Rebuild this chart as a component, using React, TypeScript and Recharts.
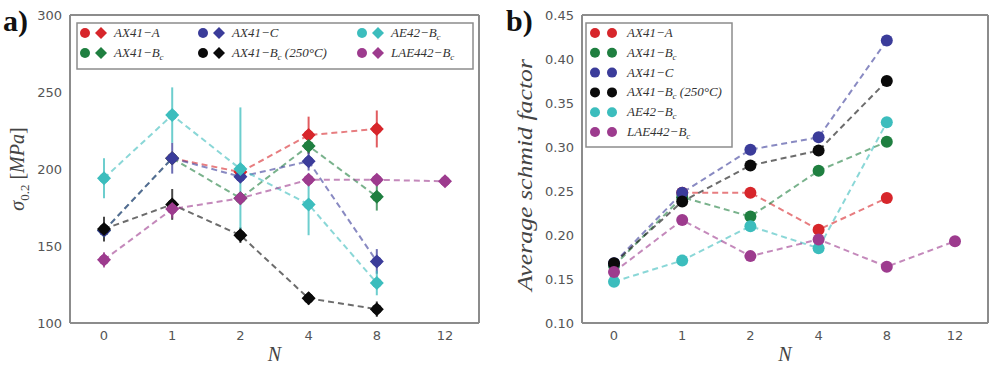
import React from "react"
import { LineChart, Line, XAxis, YAxis, ErrorBar, Legend } from "recharts"

// number of passes N (categorical axis)
const categories = ["0", "1", "2", "4", "8", "12"]

// panel a) yield stress sigma_0.2 [MPa]
const sigmaA = [null, 207, 198, 222, 226, null]
const sigmaAErr = [null, null, null, 12, 12, null]
const sigmaBc = [160, 207, 181, 215, 182, null]
const sigmaBcErr = [null, null, null, 5, 9, null]
const sigmaC = [160, 207, 195, 205, 140, null]
const sigmaCErr = [null, 10, null, 6, 8, null]
const sigmaBc250 = [161, 177, 157, 116, 109, null]
const sigmaBc250Err = [8, 10, 5, 4, 5, null]
const sigmaAE42 = [194, 235, 200, 177, 126, null]
const sigmaAE42Err = [13, 18, 40, 20, 8, null]
const sigmaLAE442 = [141, 174, 181, 193, 193, 192]
const sigmaLAE442Err = [5, 6, null, null, null, null]

// panel b) average schmid factor
const schmidA = [null, 0.248, 0.248, 0.206, 0.242, null]
const schmidBc = [0.165, 0.243, 0.221, 0.273, 0.306, null]
const schmidC = [0.168, 0.248, 0.297, 0.311, 0.421, null]
const schmidBc250 = [0.168, 0.238, 0.279, 0.296, 0.375, null]
const schmidAE42 = [0.147, 0.171, 0.21, 0.185, 0.328, null]
const schmidLAE442 = [0.158, 0.217, 0.176, 0.195, 0.164, 0.193]

const sigmaTicks = [100, 150, 200, 250, 300]
const schmidTicks = [0.1, 0.15, 0.2, 0.25, 0.3, 0.35, 0.4, 0.45]

interface Series {
  key: string
  main: string
  sub?: string
  tail?: string
  color: string
}

const series: Series[] = [
  { key: "a", main: "AX41\u2212A", color: "#d7262b" },
  { key: "bc", main: "AX41\u2212B", sub: "c", color: "#1f7f40" },
  { key: "c", main: "AX41\u2212C", color: "#3b3c9a" },
  { key: "bc250", main: "AX41\u2212B", sub: "c", tail: " (250\u00b0C)", color: "#0a0a0a" },
  { key: "ae42", main: "AE42\u2212B", sub: "c", color: "#3cbdbd" },
  { key: "lae442", main: "LAE442\u2212B", sub: "c", color: "#9d3b8e" },
]

const sigmaData = categories.map((n, i) => ({
  n,
  a: sigmaA[i], aErr: sigmaAErr[i],
  bc: sigmaBc[i], bcErr: sigmaBcErr[i],
  c: sigmaC[i], cErr: sigmaCErr[i],
  bc250: sigmaBc250[i], bc250Err: sigmaBc250Err[i],
  ae42: sigmaAE42[i], ae42Err: sigmaAE42Err[i],
  lae442: sigmaLAE442[i], lae442Err: sigmaLAE442Err[i],
}))

const schmidData = categories.map((n, i) => ({
  n,
  a: schmidA[i],
  bc: schmidBc[i],
  c: schmidC[i],
  bc250: schmidBc250[i],
  ae42: schmidAE42[i],
  lae442: schmidLAE442[i],
}))

const frame = "#8c8c8c"
const tickStyle = { fontFamily: "DejaVu Sans", fontSize: 13, fill: "#555" }
const serif = "Liberation Serif"

const SeriesName = ({ s, x, y }: { s: Series; x: number; y: number }) => (
  <text x={x} y={y} fontFamily={serif} fontStyle="italic" fontSize={13} fill="#333">
    <tspan>{s.main}</tspan>
    {s.sub && <tspan dy={3} fontSize={9}>{s.sub}</tspan>}
    {s.tail && <tspan dy={s.sub ? -3 : 0}>{s.tail}</tspan>}
  </text>
)

const diamond = (cx: number, cy: number, r: number) =>
  `M${cx} ${cy - r} L${cx + r} ${cy} L${cx} ${cy + r} L${cx - r} ${cy} Z`

const makeDiamondDot = (color: string) => (props: any) => {
  const { cx, cy, index } = props
  if (cx == null || cy == null || props.value == null) return <g key={index} />
  return (
    <g key={index}>
      <circle cx={cx} cy={cy} r={5} fill={color} />
      <path d={diamond(cx, cy, 7)} fill={color} />
    </g>
  )
}

const makeCircleDot = (color: string) => (props: any) => {
  const { cx, cy, index } = props
  if (cx == null || cy == null || props.value == null) return <g key={index} />
  return <circle key={index} cx={cx} cy={cy} r={6} fill={color} />
}

const LegendA = () => (
  <svg width={398} height={48} style={{ display: "block" }}>
    <rect x={1} y={1} width={396} height={46} fill="#fff" stroke={frame} strokeWidth={1.5} />
    {series.map((s, i) => {
      const col = Math.floor(i / 2)
      const row = i % 2
      const x0 = [4, 122, 281][col]
      const y0 = 11 + row * 20
      return (
        <g key={s.key}>
          <circle cx={x0 + 5} cy={y0} r={5} fill={s.color} />
          <path d={diamond(x0 + 21, y0, 6)} fill={s.color} />
          <SeriesName s={s} x={x0 + 34} y={y0 + 4} />
        </g>
      )
    })}
  </svg>
)

const LegendB = () => (
  <svg width={148} height={126} style={{ display: "block" }}>
    <rect x={1} y={1} width={146} height={124} fill="#fff" stroke={frame} strokeWidth={1.5} />
    {series.map((s, i) => {
      const y0 = 11 + i * 19.8
      return (
        <g key={s.key}>
          <circle cx={10} cy={y0} r={5} fill={s.color} />
          <circle cx={27} cy={y0} r={5} fill={s.color} />
          <SeriesName s={s} x={42} y={y0 + 4} />
        </g>
      )
    })}
  </svg>
)

const SigmaLabel = (props: any) => {
  const { viewBox } = props
  const x = viewBox.x - 6
  const y = viewBox.y + viewBox.height / 2
  return (
    <text x={x} y={y} transform={`rotate(-90 ${x} ${y})`} textAnchor="middle" fontFamily={serif} fontSize={20} fill="#444">
      <tspan fontStyle="italic">{"\u03c3"}</tspan>
      <tspan dy={5} fontSize={13}>0.2</tspan>
      <tspan dy={-5}>{" ["}</tspan>
      <tspan fontStyle="italic">MPa</tspan>
      <tspan>]</tspan>
    </text>
  )
}

const SchmidLabel = (props: any) => {
  const { viewBox } = props
  const x = viewBox.x - 10
  const y = viewBox.y + viewBox.height / 2 + 6
  return (
    <text x={x} y={y} transform={`rotate(-90 ${x} ${y})`} textAnchor="middle" fontFamily={serif} fontStyle="italic"
      fontSize={21} textLength={232} lengthAdjust="spacingAndGlyphs" fill="#444">
      Average schmid factor
    </text>
  )
}

const NLabel = (props: any) => {
  const { viewBox } = props
  return (
    <text x={viewBox.x + viewBox.width / 2} y={viewBox.y + 38} textAnchor="middle" fontFamily={serif} fontStyle="italic" fontSize={20} fill="#444">
      N
    </text>
  )
}

const panelLabel: React.CSSProperties = {
  position: "absolute",
  fontFamily: serif,
  fontWeight: "bold",
  fontSize: 30,
  lineHeight: "30px",
  color: "#111",
}

const axisLine = { stroke: frame, strokeWidth: 2 }

export default function App() {
  return (
    <div style={{ position: "absolute", left: 0, top: 0, width: 989, height: 367, background: "#fff", overflow: "hidden" }}>
      <div style={{ position: "absolute", left: 0, top: 0 }}>
        <LineChart width={500} height={367} data={sigmaData} margin={{ top: 14, right: 20, bottom: 0, left: 30 }}>
          <XAxis dataKey="n" height={44} padding={{ left: 34, right: 34 }} tick={tickStyle} tickLine={false}
            axisLine={axisLine} label={<NLabel />} />
          <XAxis xAxisId="top" dataKey="n" orientation="top" height={1} padding={{ left: 34, right: 34 }}
            tick={false} tickLine={false} axisLine={axisLine} />
          <YAxis type="number" domain={[100, 300]} ticks={sigmaTicks} width={40} tick={tickStyle} tickLine={false}
            axisLine={axisLine} label={<SigmaLabel />} />
          <YAxis yAxisId="right" orientation="right" type="number" domain={[100, 300]} width={1} tick={false}
            tickLine={false} axisLine={axisLine} />
          {/* invisible series so the top/right frame axes get drawn */}
          <Line xAxisId="top" yAxisId="right" dataKey="lae442" stroke="none" dot={false} activeDot={false}
            legendType="none" isAnimationActive={false} />
          {series.map((s) => (
            <Line key={s.key} dataKey={s.key} stroke={s.color} strokeOpacity={0.6} strokeWidth={2}
              strokeDasharray="6 4" dot={makeDiamondDot(s.color)} activeDot={false} isAnimationActive={false}>
              <ErrorBar dataKey={`${s.key}Err`} width={0} stroke={s.color} strokeOpacity={0.75} strokeWidth={2} />
            </Line>
          ))}
          <Legend layout="vertical" align="center" verticalAlign="middle" content={<LegendA />}
            wrapperStyle={{ left: 76, top: 22, width: 398, height: 48 }} />
        </LineChart>
      </div>
      <div style={{ position: "absolute", left: 490, top: 0 }}>
        <LineChart width={499} height={367} data={schmidData} margin={{ top: 14, right: 0, bottom: 0, left: 52 }}>
          <XAxis dataKey="n" height={44} padding={{ left: 32, right: 33 }} tick={tickStyle} tickLine={false}
            axisLine={axisLine} label={<NLabel />} />
          <XAxis xAxisId="top" dataKey="n" orientation="top" height={1} padding={{ left: 32, right: 33 }}
            tick={false} tickLine={false} axisLine={axisLine} />
          <YAxis type="number" domain={[0.1, 0.45]} ticks={schmidTicks} width={40} tick={tickStyle} tickLine={false}
            tickFormatter={(v: number) => v.toFixed(2)} axisLine={axisLine} label={<SchmidLabel />} />
          <YAxis yAxisId="right" orientation="right" type="number" domain={[0.1, 0.45]} width={1} tick={false}
            tickLine={false} axisLine={axisLine} />
          <Line xAxisId="top" yAxisId="right" dataKey="lae442" stroke="none" dot={false} activeDot={false}
            legendType="none" isAnimationActive={false} />
          {series.map((s) => (
            <Line key={s.key} dataKey={s.key} stroke={s.color} strokeOpacity={0.6} strokeWidth={2}
              strokeDasharray="6 4" dot={makeCircleDot(s.color)} activeDot={false} isAnimationActive={false} />
          ))}
          <Legend layout="vertical" align="center" verticalAlign="middle" content={<LegendB />}
            wrapperStyle={{ left: 95, top: 22, width: 148, height: 126 }} />
        </LineChart>
      </div>
      <div style={{ ...panelLabel, left: 3, top: 6 }}>a)</div>
      <div style={{ ...panelLabel, left: 506, top: 6 }}>b)</div>
    </div>
  )
}
